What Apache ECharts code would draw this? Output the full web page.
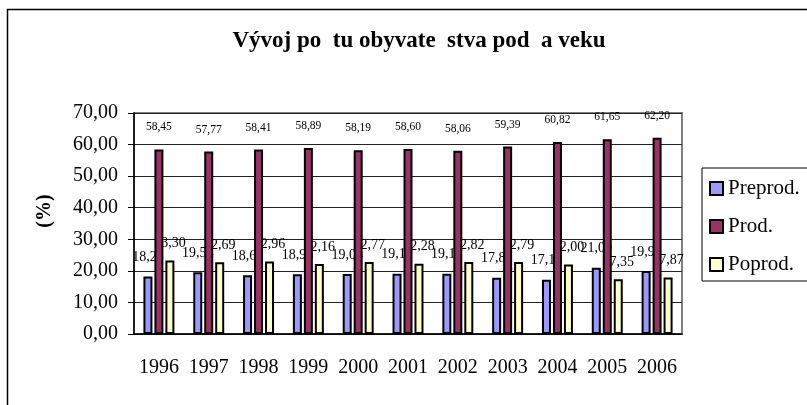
<!DOCTYPE html>
<html>
<head>
<meta charset="utf-8">
<script src="https://cdn.jsdelivr.net/npm/echarts@6/dist/echarts.min.js"></script>
<style>
	html, body { margin: 0; padding: 0; background: #fff; }
	#chart { width: 807px; height: 405px; }
</style>
</head>
<body>
<div id="chart"></div>
<script>
const years = ["1996", "1997", "1998", "1999", "2000", "2001", "2002", "2003", "2004", "2005", "2006"];
const preprod = [18.25, 19.54, 18.63, 18.96, 19.04, 19.12, 19.12, 17.82, 17.18, 21.0, 19.93];
const prod = [58.45, 57.77, 58.41, 58.89, 58.19, 58.6, 58.06, 59.39, 60.82, 61.65, 62.2];
const poprod = [23.3, 22.69, 22.96, 22.16, 22.77, 22.28, 22.82, 22.79, 22.0, 17.35, 17.87];

const serif = "'Liberation Serif', 'Times New Roman', serif";
const fmt = (v) => v.toFixed(2).replace(".", ",");

const makeSeries = (name, data, color, z, fontSize, distance) => ({
	name,
	type: "bar",
	data,
	z,
	barWidth: 9,
	barGap: "22%",
	itemStyle: { color, borderColor: "#000", borderWidth: 2 },
	label: {
		show: true,
		position: "top",
		distance,
		fontFamily: serif,
		fontSize,
		color: "#000",
		formatter: (p) => fmt(p.value),
	},
});

const chart = echarts.init(document.getElementById("chart"));
chart.setOption({
	animation: false,
	backgroundColor: "#fff",
	title: {
		text: "Vývoj po  tu obyvate  stva pod  a veku",
		left: 414,
		top: 25,
		textAlign: "center",
		textStyle: { fontFamily: serif, fontSize: 23, fontWeight: "bold", color: "#000" },
	},
	legend: {
		left: 702,
		top: 168,
		orient: "vertical",
		icon: "rect",
		itemWidth: 13,
		itemHeight: 13,
		itemGap: 17,
		padding: [10, 30, 6, 7],
		borderColor: "#000",
		borderWidth: 1,
		textStyle: { fontFamily: serif, fontSize: 21, color: "#000", lineHeight: 20 },
	},
	grid: {
		left: 134,
		right: 125,
		top: 113,
		bottom: 71,
		show: true,
		borderColor: "#808080",
		borderWidth: 2,
	},
	xAxis: {
		type: "category",
		data: years,
		axisLine: { lineStyle: { color: "#000", width: 1.5 } },
		axisTick: { length: 6, lineStyle: { color: "#000" } },
		axisLabel: { interval: 0, fontFamily: serif, fontSize: 20, color: "#000", margin: 24 },
	},
	yAxis: {
		type: "value",
		min: 0,
		max: 70,
		interval: 10,
		axisLine: { show: true, lineStyle: { color: "#000", width: 1.5 } },
		axisTick: { show: true, length: 6, lineStyle: { color: "#000" } },
		axisLabel: {
			fontFamily: serif,
			fontSize: 20,
			color: "#000",
			margin: 16,
			formatter: (v) => fmt(v),
		},
		splitLine: { lineStyle: { color: "#222", width: 1 } },
	},
	graphic: [
		{
			type: "rect",
			shape: { x: 7.5, y: 9.5, width: 830, height: 430 },
			style: { fill: null, stroke: "#000", lineWidth: 1.5 },
			silent: true,
		},
		{
			type: "text",
			x: 45,
			y: 211,
			rotation: Math.PI / 2,
			style: {
				text: "(%)",
				font: "bold 20px " + serif,
				fill: "#000",
				align: "center",
				verticalAlign: "middle",
			},
		},
	],
	series: [
		makeSeries("Preprod.", preprod, "#9999FF", 2, 14, 12),
		makeSeries("Prod.", prod, "#993366", 3, 11.5, 16),
		makeSeries("Poprod.", poprod, "#FFFFCC", 2, 14, 10),
	],
});
</script>
</body>
</html>
